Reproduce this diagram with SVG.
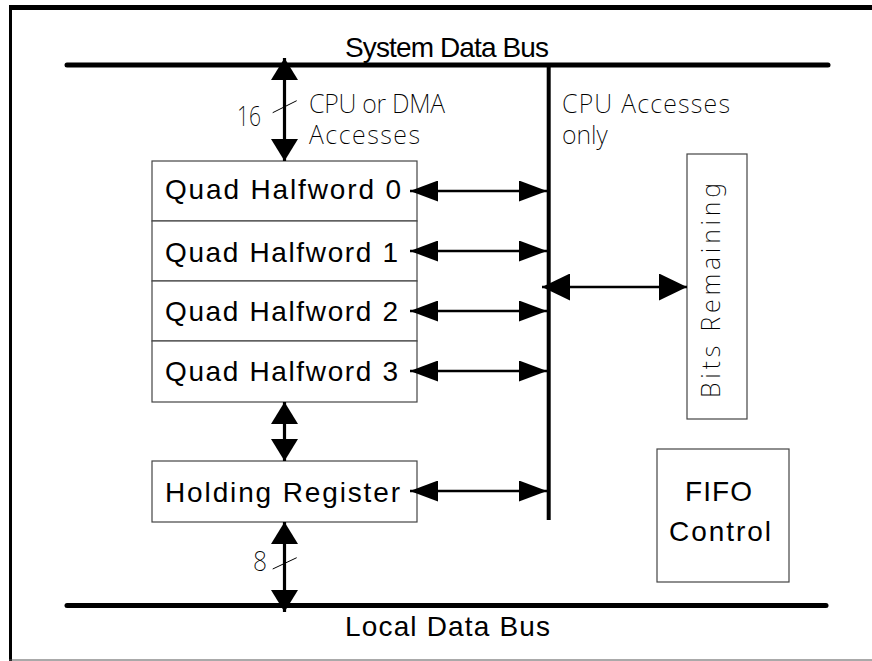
<svg xmlns="http://www.w3.org/2000/svg" width="872" height="661" viewBox="0 0 872 661">
<style>
.box{fill:#fff;stroke:#444;stroke-width:1.2}
.lbl{font-family:"Liberation Sans Narrow","Liberation Sans",Arial,sans-serif;font-size:28px;fill:#000}
.thin{font-family:"Noto Sans","Liberation Sans",sans-serif;font-weight:200;font-size:25px;fill:#000}
.num{font-family:"Noto Sans","Liberation Sans",sans-serif;font-weight:200;font-size:28px;fill:#000}
.bus{stroke:#000;stroke-width:5;stroke-linecap:round;fill:none}
.sh{stroke:#000;stroke-width:2.5;fill:none}
.vs{stroke:#000;stroke-width:3.2;fill:none}
.tick{stroke:#000;stroke-width:1;fill:none}
</style>
<defs>
<marker id="ah" viewBox="0 0 28 21" refX="28" refY="10.5" markerWidth="28" markerHeight="21" markerUnits="userSpaceOnUse" orient="auto-start-reverse"><path d="M0,0 L28,10.5 L0,21 Z" fill="#000"/></marker>
<marker id="vh" viewBox="0 0 22 27" refX="22" refY="13.5" markerWidth="22" markerHeight="27" markerUnits="userSpaceOnUse" orient="auto-start-reverse"><path d="M0,0 L22,13.5 L0,27 Z" fill="#000"/></marker>
<marker id="bh" viewBox="0 0 28 27" refX="28" refY="13.5" markerWidth="28" markerHeight="27" markerUnits="userSpaceOnUse" orient="auto-start-reverse"><path d="M0,0 L28,13.5 L0,27 Z" fill="#000"/></marker>
</defs>
<rect width="872" height="661" fill="#fff"/>
<g id="frame">
<line x1="9" y1="7.5" x2="872" y2="7.5" stroke="#000" stroke-width="5"/>
<line x1="10.5" y1="5" x2="10.5" y2="661" stroke="#000" stroke-width="3"/>
<line x1="9" y1="660" x2="872" y2="660" stroke="#555" stroke-width="1"/>
</g>
<g id="system-bus">
<line class="bus" x1="67" y1="65" x2="828" y2="65"/>
<text class="lbl" x="345" y="57" textLength="204" lengthAdjust="spacing">System Data Bus</text>
</g>
<g id="local-bus">
<line class="bus" x1="67" y1="605.5" x2="826" y2="605.5"/>
<text class="lbl" x="345" y="636" textLength="205" lengthAdjust="spacing">Local Data Bus</text>
</g>
<g id="qhw0"><rect class="box" x="152" y="161" width="265" height="60"/><text class="lbl" x="165" y="199" textLength="236" lengthAdjust="spacing">Quad Halfword 0</text></g>
<g id="qhw1"><rect class="box" x="152" y="221" width="265" height="60"/><text class="lbl" x="165" y="262" textLength="233" lengthAdjust="spacing">Quad Halfword 1</text></g>
<g id="qhw2"><rect class="box" x="152" y="281" width="265" height="60"/><text class="lbl" x="165" y="321" textLength="233" lengthAdjust="spacing">Quad Halfword 2</text></g>
<g id="qhw3"><rect class="box" x="152" y="341" width="265" height="61"/><text class="lbl" x="165" y="381" textLength="233" lengthAdjust="spacing">Quad Halfword 3</text></g>
<g id="holding"><rect class="box" x="152" y="461" width="265" height="61"/><text class="lbl" x="165" y="502" textLength="235" lengthAdjust="spacing">Holding Register</text></g>
<g id="bits"><rect class="box" x="687" y="154" width="60" height="265"/><text class="thin" transform="translate(720,398) rotate(-90)" x="0" y="0" textLength="215" lengthAdjust="spacing">Bits Remaining</text></g>
<g id="fifo"><rect class="box" x="657" y="449" width="132" height="133"/><text class="lbl" x="685" y="501" textLength="67" lengthAdjust="spacing">FIFO</text><text class="lbl" x="669" y="541" textLength="102" lengthAdjust="spacing">Control</text></g>
<g id="labels">
<text class="thin" x="309" y="113" textLength="136" lengthAdjust="spacing">CPU or DMA</text>
<text class="thin" x="309" y="144" textLength="111" lengthAdjust="spacing">Accesses</text>
<text class="num" x="237" y="126" textLength="24" lengthAdjust="spacingAndGlyphs">16</text>
<text class="thin" x="562" y="113" textLength="168" lengthAdjust="spacing">CPU Accesses</text>
<text class="thin" x="562" y="144">only</text>
<text class="num" x="253" y="571" textLength="14" lengthAdjust="spacingAndGlyphs">8</text>
</g>
<g id="connectors">
<line x1="548.7" y1="65" x2="548.7" y2="520" stroke="#000" stroke-width="4"/>
<line class="vs" x1="284.5" y1="58" x2="284.5" y2="161" marker-start="url(#vh)" marker-end="url(#vh)"/>
<line class="vs" x1="284.5" y1="402" x2="284.5" y2="461" marker-start="url(#vh)" marker-end="url(#vh)"/>
<line class="vs" x1="284.5" y1="522" x2="284.5" y2="612" marker-start="url(#vh)" marker-end="url(#vh)"/>
<line class="sh" x1="410" y1="191" x2="547" y2="191" marker-start="url(#ah)" marker-end="url(#ah)"/>
<line class="sh" x1="410" y1="251" x2="547" y2="251" marker-start="url(#ah)" marker-end="url(#ah)"/>
<line class="sh" x1="410" y1="311" x2="547" y2="311" marker-start="url(#ah)" marker-end="url(#ah)"/>
<line class="sh" x1="410" y1="371" x2="547" y2="371" marker-start="url(#ah)" marker-end="url(#ah)"/>
<line class="sh" x1="410" y1="491" x2="547" y2="491" marker-start="url(#ah)" marker-end="url(#ah)"/>
<line class="sh" x1="542" y1="287" x2="687" y2="287" marker-start="url(#bh)" marker-end="url(#bh)"/>
<line class="tick" x1="272.7" y1="112.7" x2="296.7" y2="100.7"/>
<line class="tick" x1="272.7" y1="569" x2="296.7" y2="557.7"/>
</g>
</svg>
